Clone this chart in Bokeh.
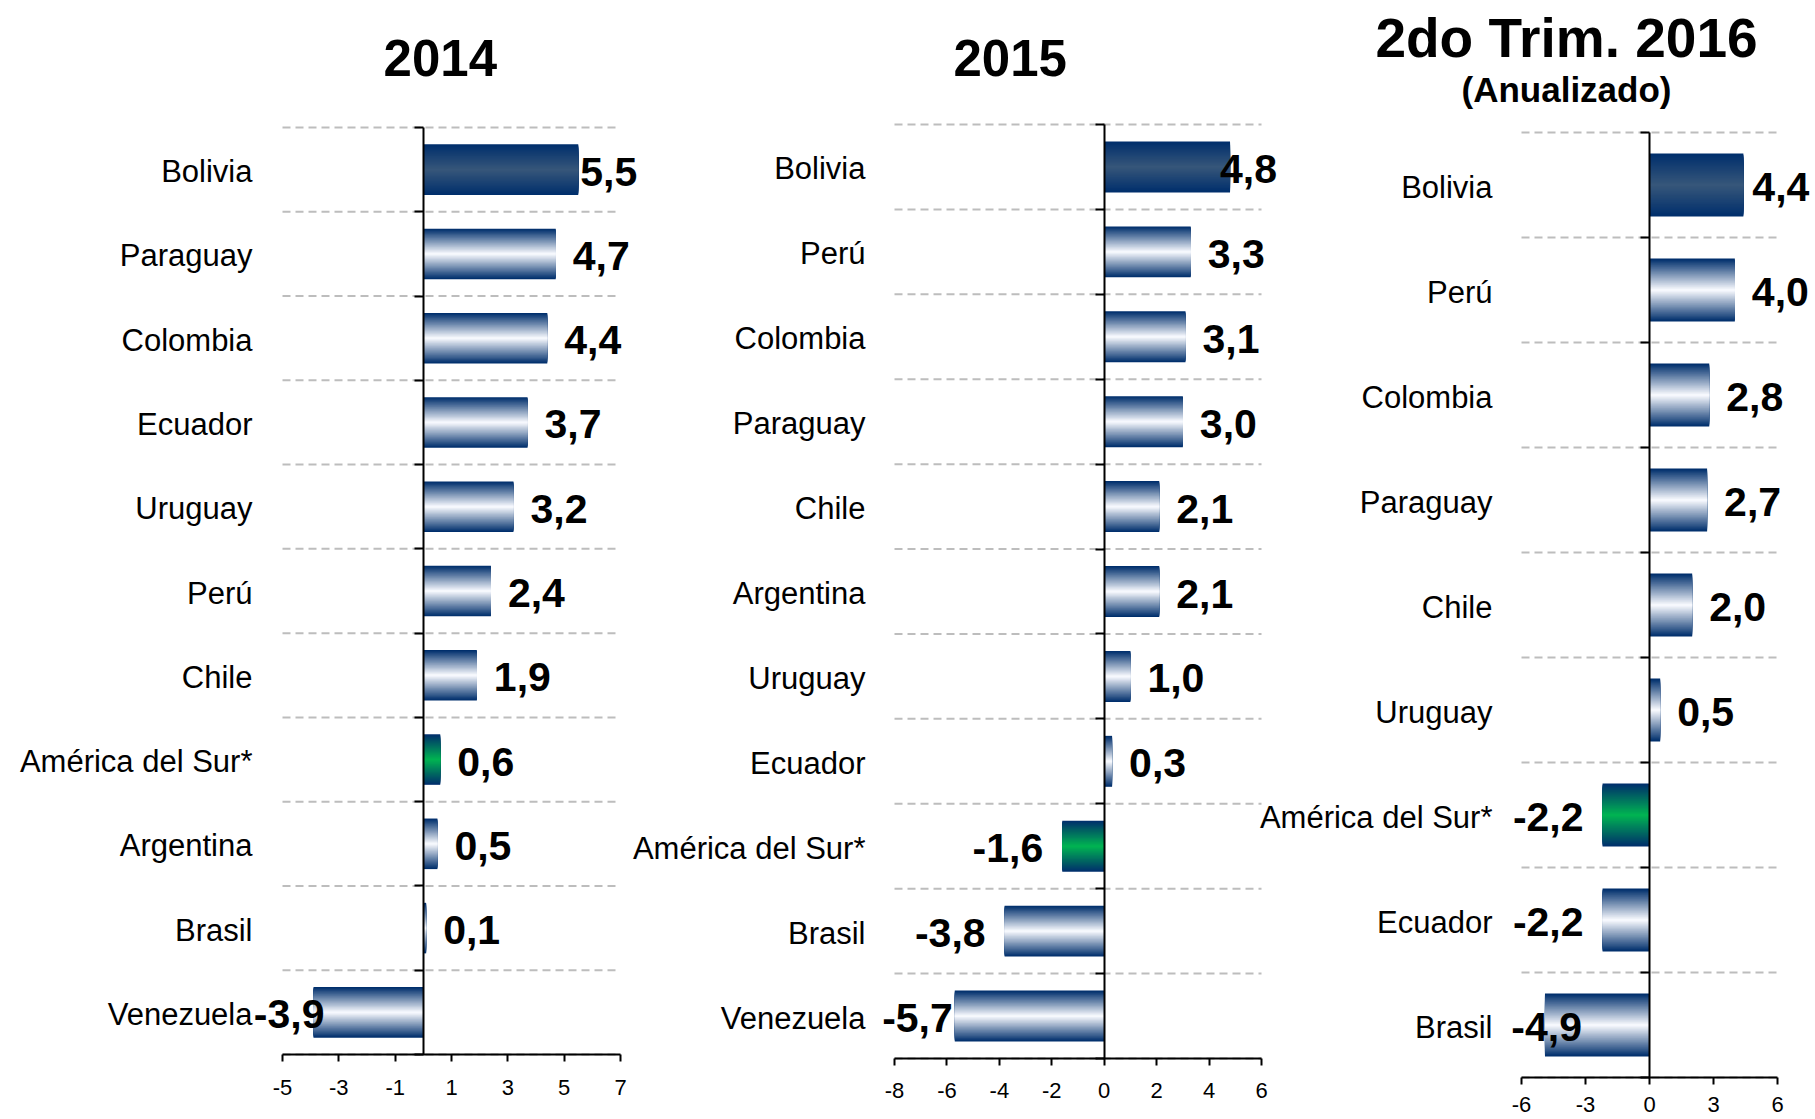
from bokeh.plotting import figure
from bokeh.models import Range1d, FixedTicker, ColumnDataSource, LabelSet, Label
from bokeh.core.properties import value
from bokeh.layouts import row
from bokeh.embed import file_html
from bokeh.resources import INLINE

# ---------------- data ----------------
countries_2014 = ["Bolivia", "Paraguay", "Colombia", "Ecuador", "Uruguay", "Perú", "Chile",
                  "América del Sur*", "Argentina", "Brasil", "Venezuela"]
values_2014 = [5.5, 4.7, 4.4, 3.7, 3.2, 2.4, 1.9, 0.6, 0.5, 0.1, -3.9]
ticks_2014 = [-5, -3, -1, 1, 3, 5, 7]

countries_2015 = ["Bolivia", "Perú", "Colombia", "Paraguay", "Chile", "Argentina", "Uruguay",
                  "Ecuador", "América del Sur*", "Brasil", "Venezuela"]
values_2015 = [4.8, 3.3, 3.1, 3.0, 2.1, 2.1, 1.0, 0.3, -1.6, -3.8, -5.7]
ticks_2015 = [-8, -6, -4, -2, 0, 2, 4, 6]

countries_2016 = ["Bolivia", "Perú", "Colombia", "Paraguay", "Chile", "Uruguay",
                  "América del Sur*", "Ecuador", "Brasil"]
values_2016 = [4.4, 4.0, 2.8, 2.7, 2.0, 0.5, -2.2, -2.2, -4.9]
ticks_2016 = [-6, -3, 0, 3, 6]

titles_2014 = ["2014"]
titles_2015 = ["2015"]
titles_2016 = ["2do Trim. 2016", "(Anualizado)"]

# ---------------- style ----------------
FONT = "Liberation Sans"
NAVY = (0, 47, 108)
CENTER_NORMAL = (246, 248, 253)
CENTER_TOP = (54, 86, 122)
CENTER_REGION = (0, 178, 82)
H = 1119
LEVELS = 28
BAR_H = 0.6


def hexc(c):
    return "#%02x%02x%02x" % tuple(int(round(v)) for v in c)


def lerp(a, b, f):
    return tuple(a[i] + (b[i] - a[i]) * f for i in range(3))


def center_color(name):
    if name == "Bolivia":
        return CENTER_TOP
    if name.startswith("América"):
        return CENTER_REGION
    return CENTER_NORMAL


def fmt(v):
    return ("%.1f" % v).replace(".", ",")


def make_panel(cats, vals, ticks, titles, cfg):
    n = len(cats)
    ys = [n - 1 - i for i in range(n)]
    a, b = cfg["xr"]
    W = cfg["W"]
    # the frame covers the whole canvas; the value range occupies the inner box
    ppx = (W - cfg["bl"] - cfg["br"]) / (b - a)
    ppy = (cfg["fb"] - cfg["bt"]) / n
    x0 = a - cfg["bl"] / ppx
    x1 = b + cfg["br"] / ppx
    y0 = -0.5 - (H - cfg["fb"]) / ppy
    y1 = n - 0.5 + cfg["bt"] / ppy

    p = figure(width=W, height=H,
               x_range=Range1d(x0, x1), y_range=Range1d(y0, y1),
               toolbar_location=None, output_backend="svg",
               min_border_left=0, min_border_right=0,
               min_border_top=0, min_border_bottom=0,
               outline_line_color=None, background_fill_color=None,
               border_fill_color=None)
    if cfg.get("ml"):
        p.margin = (0, 0, 0, cfg["ml"])

    bounds = [k - 0.5 for k in range(n + 1)]
    p.xgrid.visible = False
    p.ygrid.visible = False

    # zero line axis with boundary ticks
    ya = p.yaxis[0]
    ya.fixed_location = 0
    ya.bounds = (-0.5, n - 0.5)
    ya.ticker = FixedTicker(ticks=bounds)
    ya.axis_line_width = 2
    ya.axis_line_color = "black"
    ya.major_tick_line_width = 2
    ya.major_tick_out = 9
    ya.major_tick_in = 0
    ya.minor_tick_line_color = None
    ya.major_label_text_color = None
    ya.major_label_text_font_size = "1px"

    # value axis at the bottom of the category block
    xa = p.xaxis[0]
    xa.fixed_location = -0.5
    xa.bounds = (a, b)
    xa.ticker = FixedTicker(ticks=ticks)
    xa.major_label_overrides = {t: str(t) for t in ticks}
    xa.axis_line_width = 2
    xa.axis_line_color = "black"
    xa.major_tick_line_width = 2
    xa.major_tick_out = 7
    xa.major_tick_in = 0
    xa.minor_tick_line_color = None
    xa.major_label_standoff = cfg["xs"]
    xa.major_label_text_font = FONT
    xa.major_label_text_font_size = "22px"
    xa.major_label_text_color = "black"

    # dashed separators between categories, across the value range
    p.segment(x0=[a] * len(bounds), x1=[b] * len(bounds), y0=bounds, y1=bounds,
              line_color="#bdbdbd", line_dash="8 5", line_width=2)

    # gradient bars: nested rectangles from edge colour to centre colour
    for k in range(LEVELS):
        f = k / (LEVELS - 1)
        h = BAR_H * (1 - k / LEVELS)
        cols = [hexc(lerp(NAVY, center_color(c), f)) for c in cats]
        src = ColumnDataSource(dict(y=ys, v=vals, c=cols))
        p.hbar(y="y", height=h, left=0, right="v", fill_color="c",
               line_color=None, source=src)

    # category labels
    p.add_layout(LabelSet(x=a, y="y", text="t", x_offset=-cfg["lg"], y_offset=-2,
                          source=ColumnDataSource(dict(y=ys, t=cats)),
                          text_align="right", text_baseline="middle",
                          text_font=value(FONT), text_font_size="31px",
                          text_color="black"))

    # value labels
    nudges = cfg["nudge"]
    pos = dict(x=[], y=[], t=[], o=[])
    neg = dict(x=[], y=[], t=[], o=[])
    for c, v, y in zip(cats, vals, ys):
        d = pos if v >= 0 else neg
        base = 17 if v >= 0 else -19
        d["x"].append(v)
        d["y"].append(y)
        d["t"].append(fmt(v))
        d["o"].append(base + nudges.get(c, 0))
    for d, align in ((pos, "left"), (neg, "right")):
        if d["x"]:
            p.add_layout(LabelSet(x="x", y="y", text="t", x_offset="o", y_offset=-2,
                                  source=ColumnDataSource(d), text_align=align,
                                  text_baseline="middle", text_font=value(FONT),
                                  text_font_size="41px", text_font_style="bold",
                                  text_color="black"))

    # titles
    for (txt, size, yo) in zip(titles, cfg["tsize"], cfg["tyo"]):
        p.add_layout(Label(x=0, y=n - 0.5, x_offset=cfg["txo"], y_offset=yo,
                           text=txt, text_align="center", text_baseline="alphabetic",
                           text_font=FONT, text_font_size=size, text_font_style="bold",
                           text_color="black"))
    return p


cfg1 = dict(W=650, bl=282, br=30, bt=127, fb=1054, xr=(-5, 7), lg=30, xs=18,
            nudge={"Bolivia": -15, "Venezuela": 30}, txo=17, tyo=[70], tsize=["51px"])
cfg2 = dict(W=680, ml=-40, bl=284, br=29, bt=124, fb=1058, xr=(-8, 6), lg=29, xs=17,
            nudge={"Bolivia": -27, "Venezuela": 17}, txo=-94, tyo=[67], tsize=["51px"])
cfg3 = dict(W=575, ml=-50, bl=281, br=38, bt=132, fb=1077, xr=(-6, 6), lg=29, xs=12,
            nudge={"Bolivia": -8, "Brasil": 56}, txo=-83, tyo=[95, 43],
            tsize=["55px", "35px"])

p1 = make_panel(countries_2014, values_2014, ticks_2014, titles_2014, cfg1)
p2 = make_panel(countries_2015, values_2015, ticks_2015, titles_2015, cfg2)
p3 = make_panel(countries_2016, values_2016, ticks_2016, titles_2016, cfg3)

layout = row(p1, p2, p3, spacing=0)
open("out.html", "w").write(file_html(layout, INLINE))
